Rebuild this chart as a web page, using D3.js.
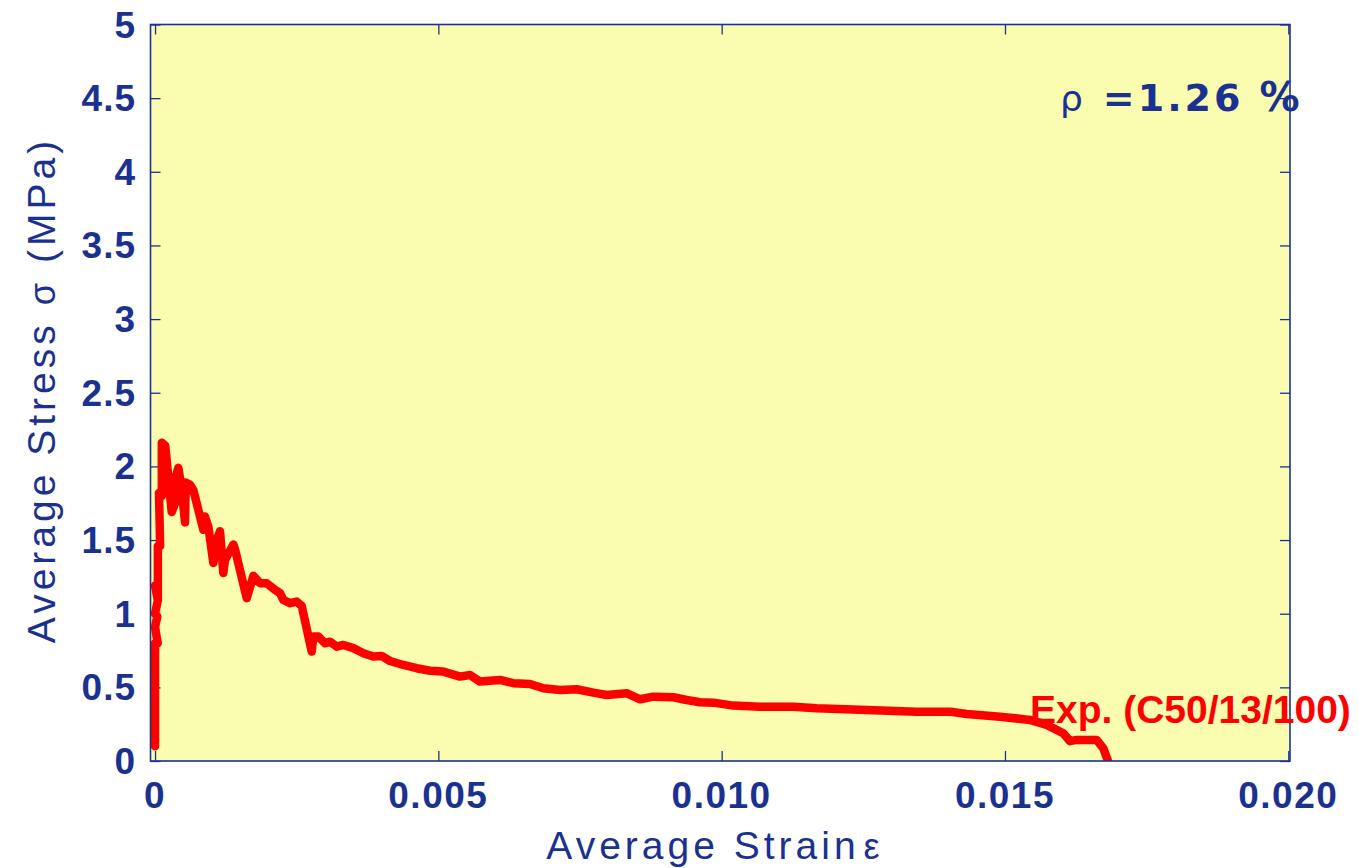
<!DOCTYPE html>
<html>
<head>
<meta charset="utf-8">
<script src="https://cdn.jsdelivr.net/npm/d3@7"></script>
<style>
  html, body { margin: 0; padding: 0; background: #ffffff; }
  svg { display: block; }
</style>
</head>
<body>
<svg id="chart" width="1359" height="868"></svg>
<script>
// Measured stress–strain response, specimen C50/13/100
const strain = [
  0, 0, 0.000047, 0, 0.00004, 0, 0.00005, 0, 0.00005, 0.00005, 0.00009,
  0.00007, 0.00012, 0.00012, 0.00018, 0.000295, 0.000353, 0.000353, 0.000411,
  0.00047, 0.000529, 0.000542, 0.000618, 0.000676, 0.000852, 0.000882, 0.000941,
  0.001029, 0.001089, 0.001147, 0.001205, 0.001235, 0.001382, 0.00141, 0.001618,
  0.001735, 0.001853, 0.001971, 0.002118, 0.002206, 0.002264, 0.002382, 0.0025,
  0.002589, 0.002765, 0.002794, 0.002882, 0.003, 0.003088, 0.003206, 0.003323,
  0.0035, 0.003676, 0.003853, 0.004, 0.004147, 0.004382, 0.004618, 0.004853,
  0.005088, 0.005382, 0.005559, 0.005735, 0.006088, 0.006323, 0.006618, 0.006853,
  0.007147, 0.007441, 0.007735, 0.007971, 0.008324, 0.008559, 0.008794, 0.009147,
  0.009382, 0.009618, 0.009853, 0.010205, 0.010676, 0.011264, 0.011677, 0.012559,
  0.013442, 0.014029, 0.014324, 0.014912, 0.015441, 0.015736, 0.016029, 0.016147,
  0.016265, 0.016618, 0.016735, 0.016818
];
const stress = [
  0.10, 0.80, 0.80, 0.91, 0.98, 1.00, 1.09, 1.19, 1.10, 1.46, 1.46,
  1.82, 1.80, 2.16, 2.14, 1.69, 1.75, 1.91, 1.99,
  1.85, 1.62, 1.89, 1.875, 1.84, 1.57, 1.66, 1.59,
  1.345, 1.50, 1.56, 1.277, 1.365, 1.47, 1.44, 1.105,
  1.257, 1.207, 1.207, 1.162, 1.14, 1.094, 1.071, 1.082,
  1.053, 0.743, 0.845, 0.845, 0.80, 0.81, 0.776, 0.788,
  0.766, 0.732, 0.709, 0.713, 0.679, 0.652, 0.63, 0.613,
  0.607, 0.573, 0.584, 0.539, 0.55, 0.528, 0.523, 0.494,
  0.482, 0.487, 0.464, 0.448, 0.46, 0.419, 0.437, 0.433,
  0.414, 0.399, 0.396, 0.376, 0.369, 0.369, 0.358, 0.346,
  0.335, 0.335, 0.319, 0.301, 0.279, 0.245, 0.188, 0.135,
  0.143, 0.143, 0.086, 0.0
];

const xTicks = [0, 0.005, 0.010, 0.015, 0.020];
const xTickLabels = ["0", "0.005", "0.010", "0.015", "0.020"];
const yTicks = [0, 0.5, 1, 1.5, 2, 2.5, 3, 3.5, 4, 4.5, 5];
const yTickLabels = ["0", "0.5", "1", "1.5", "2", "2.5", "3", "3.5", "4", "4.5", "5"];

const xTitle = "Average Strain";
const yTitle = "Average Stress";
const ratioValue = "=1.26";
const seriesLabel = "Exp. (C50/13/100)";

const navy = "#1b3190";
const plot = { left: 150.5, right: 1290, top: 24.5, bottom: 761 };

const svg = d3.select("#chart");

const x = d3.scaleLinear().domain([-0.00008, 0.02003]).range([plot.left, plot.right]);
const y = d3.scaleLinear().domain([0, 5]).range([plot.bottom, plot.top]);

// Plot background
svg.append("rect")
  .attr("x", plot.left).attr("y", plot.top)
  .attr("width", plot.right - plot.left).attr("height", plot.bottom - plot.top)
  .attr("fill", "#fafcb0");

const tickLen = 10;

// Mirrored inward ticks on all four sides
function styleAxis(g) {
  g.select(".domain").remove();
  g.selectAll(".tick line").attr("stroke", navy).attr("stroke-width", 1.3);
  g.selectAll(".tick text").remove();
}
svg.append("g").attr("transform", `translate(0,${plot.bottom})`)
  .call(d3.axisTop(x).tickValues(xTicks).tickSize(tickLen)).call(styleAxis);
svg.append("g").attr("transform", `translate(0,${plot.top})`)
  .call(d3.axisBottom(x).tickValues(xTicks).tickSize(tickLen)).call(styleAxis);
svg.append("g").attr("transform", `translate(${plot.left},0)`)
  .call(d3.axisRight(y).tickValues(yTicks).tickSize(tickLen)).call(styleAxis);
svg.append("g").attr("transform", `translate(${plot.right},0)`)
  .call(d3.axisLeft(y).tickValues(yTicks).tickSize(tickLen)).call(styleAxis);

// Tick labels
const labelFont = "'Liberation Sans', Arial, sans-serif";
svg.append("g").selectAll("text").data(xTicks).join("text")
  .attr("x", d => x(d)).attr("y", 808)
  .attr("text-anchor", "middle")
  .attr("font-family", labelFont).attr("font-weight", "bold").attr("font-size", 37)
  .attr("letter-spacing", 1.5)
  .attr("fill", navy)
  .text((d, i) => xTickLabels[i]);
svg.append("g").selectAll("text").data(yTicks).join("text")
  .attr("x", 136).attr("y", d => y(d) + 13)
  .attr("text-anchor", "end")
  .attr("font-family", labelFont).attr("font-weight", "bold").attr("font-size", 37)
  .attr("letter-spacing", 1)
  .attr("fill", navy)
  .text((d, i) => yTickLabels[i]);

// Stress–strain curve
const pts = strain.map((s, i) => [s, stress[i]]);
svg.append("defs").append("clipPath").attr("id", "plotClip")
  .append("rect")
  .attr("x", plot.left).attr("y", plot.top)
  .attr("width", plot.right - plot.left).attr("height", plot.bottom - plot.top);
svg.append("path")
  .datum(pts)
  .attr("clip-path", "url(#plotClip)")
  .attr("d", d3.line().x(d => x(d[0])).y(d => y(d[1])))
  .attr("fill", "none")
  .attr("stroke", "#ff0000")
  .attr("stroke-width", 8.5)
  .attr("stroke-linejoin", "round")
  .attr("stroke-linecap", "round");

// Frame
svg.append("rect")
  .attr("x", plot.left).attr("y", plot.top)
  .attr("width", plot.right - plot.left).attr("height", plot.bottom - plot.top)
  .attr("fill", "none").attr("stroke", navy).attr("stroke-width", 1.6);

// Axis titles
const xt = svg.append("text")
  .attr("x", 715).attr("y", 859)
  .attr("text-anchor", "middle")
  .attr("font-family", labelFont).attr("font-size", 39)
  .attr("letter-spacing", 4)
  .attr("fill", navy);
xt.append("tspan").text(xTitle);
xt.append("tspan").attr("font-size", 36).attr("dx", 4).text("\u03B5");

const yt = svg.append("text")
  .attr("transform", "translate(55,390) rotate(-90)")
  .attr("text-anchor", "middle")
  .attr("font-family", labelFont).attr("font-size", 39)
  .attr("letter-spacing", 4)
  .attr("fill", navy);
yt.append("tspan").text(yTitle);
yt.append("tspan").attr("font-size", 36).attr("dx", 16).text("\u03C3");
yt.append("tspan").attr("dx", 16).text("(MPa)");

// Reinforcement ratio annotation
const rt = svg.append("text")
  .attr("x", 1060).attr("y", 111)
  .attr("font-family", "'DejaVu Sans', Verdana, sans-serif")
  .attr("font-size", 36)
  .attr("fill", navy);
rt.append("tspan").text("\u03C1");
rt.append("tspan").attr("dx", 20).attr("font-weight", "bold").attr("font-size", 38)
  .attr("letter-spacing", 3).text(ratioValue);
rt.append("tspan").attr("dx", 16).attr("font-weight", "bold").attr("font-size", 40)
  .text("%");

// Series label
svg.append("text")
  .attr("x", 1030).attr("y", 723)
  .attr("font-family", labelFont).attr("font-weight", "bold").attr("font-size", 39)
  .attr("fill", "#ff0000")
  .text(seriesLabel);
</script>
</body>
</html>
